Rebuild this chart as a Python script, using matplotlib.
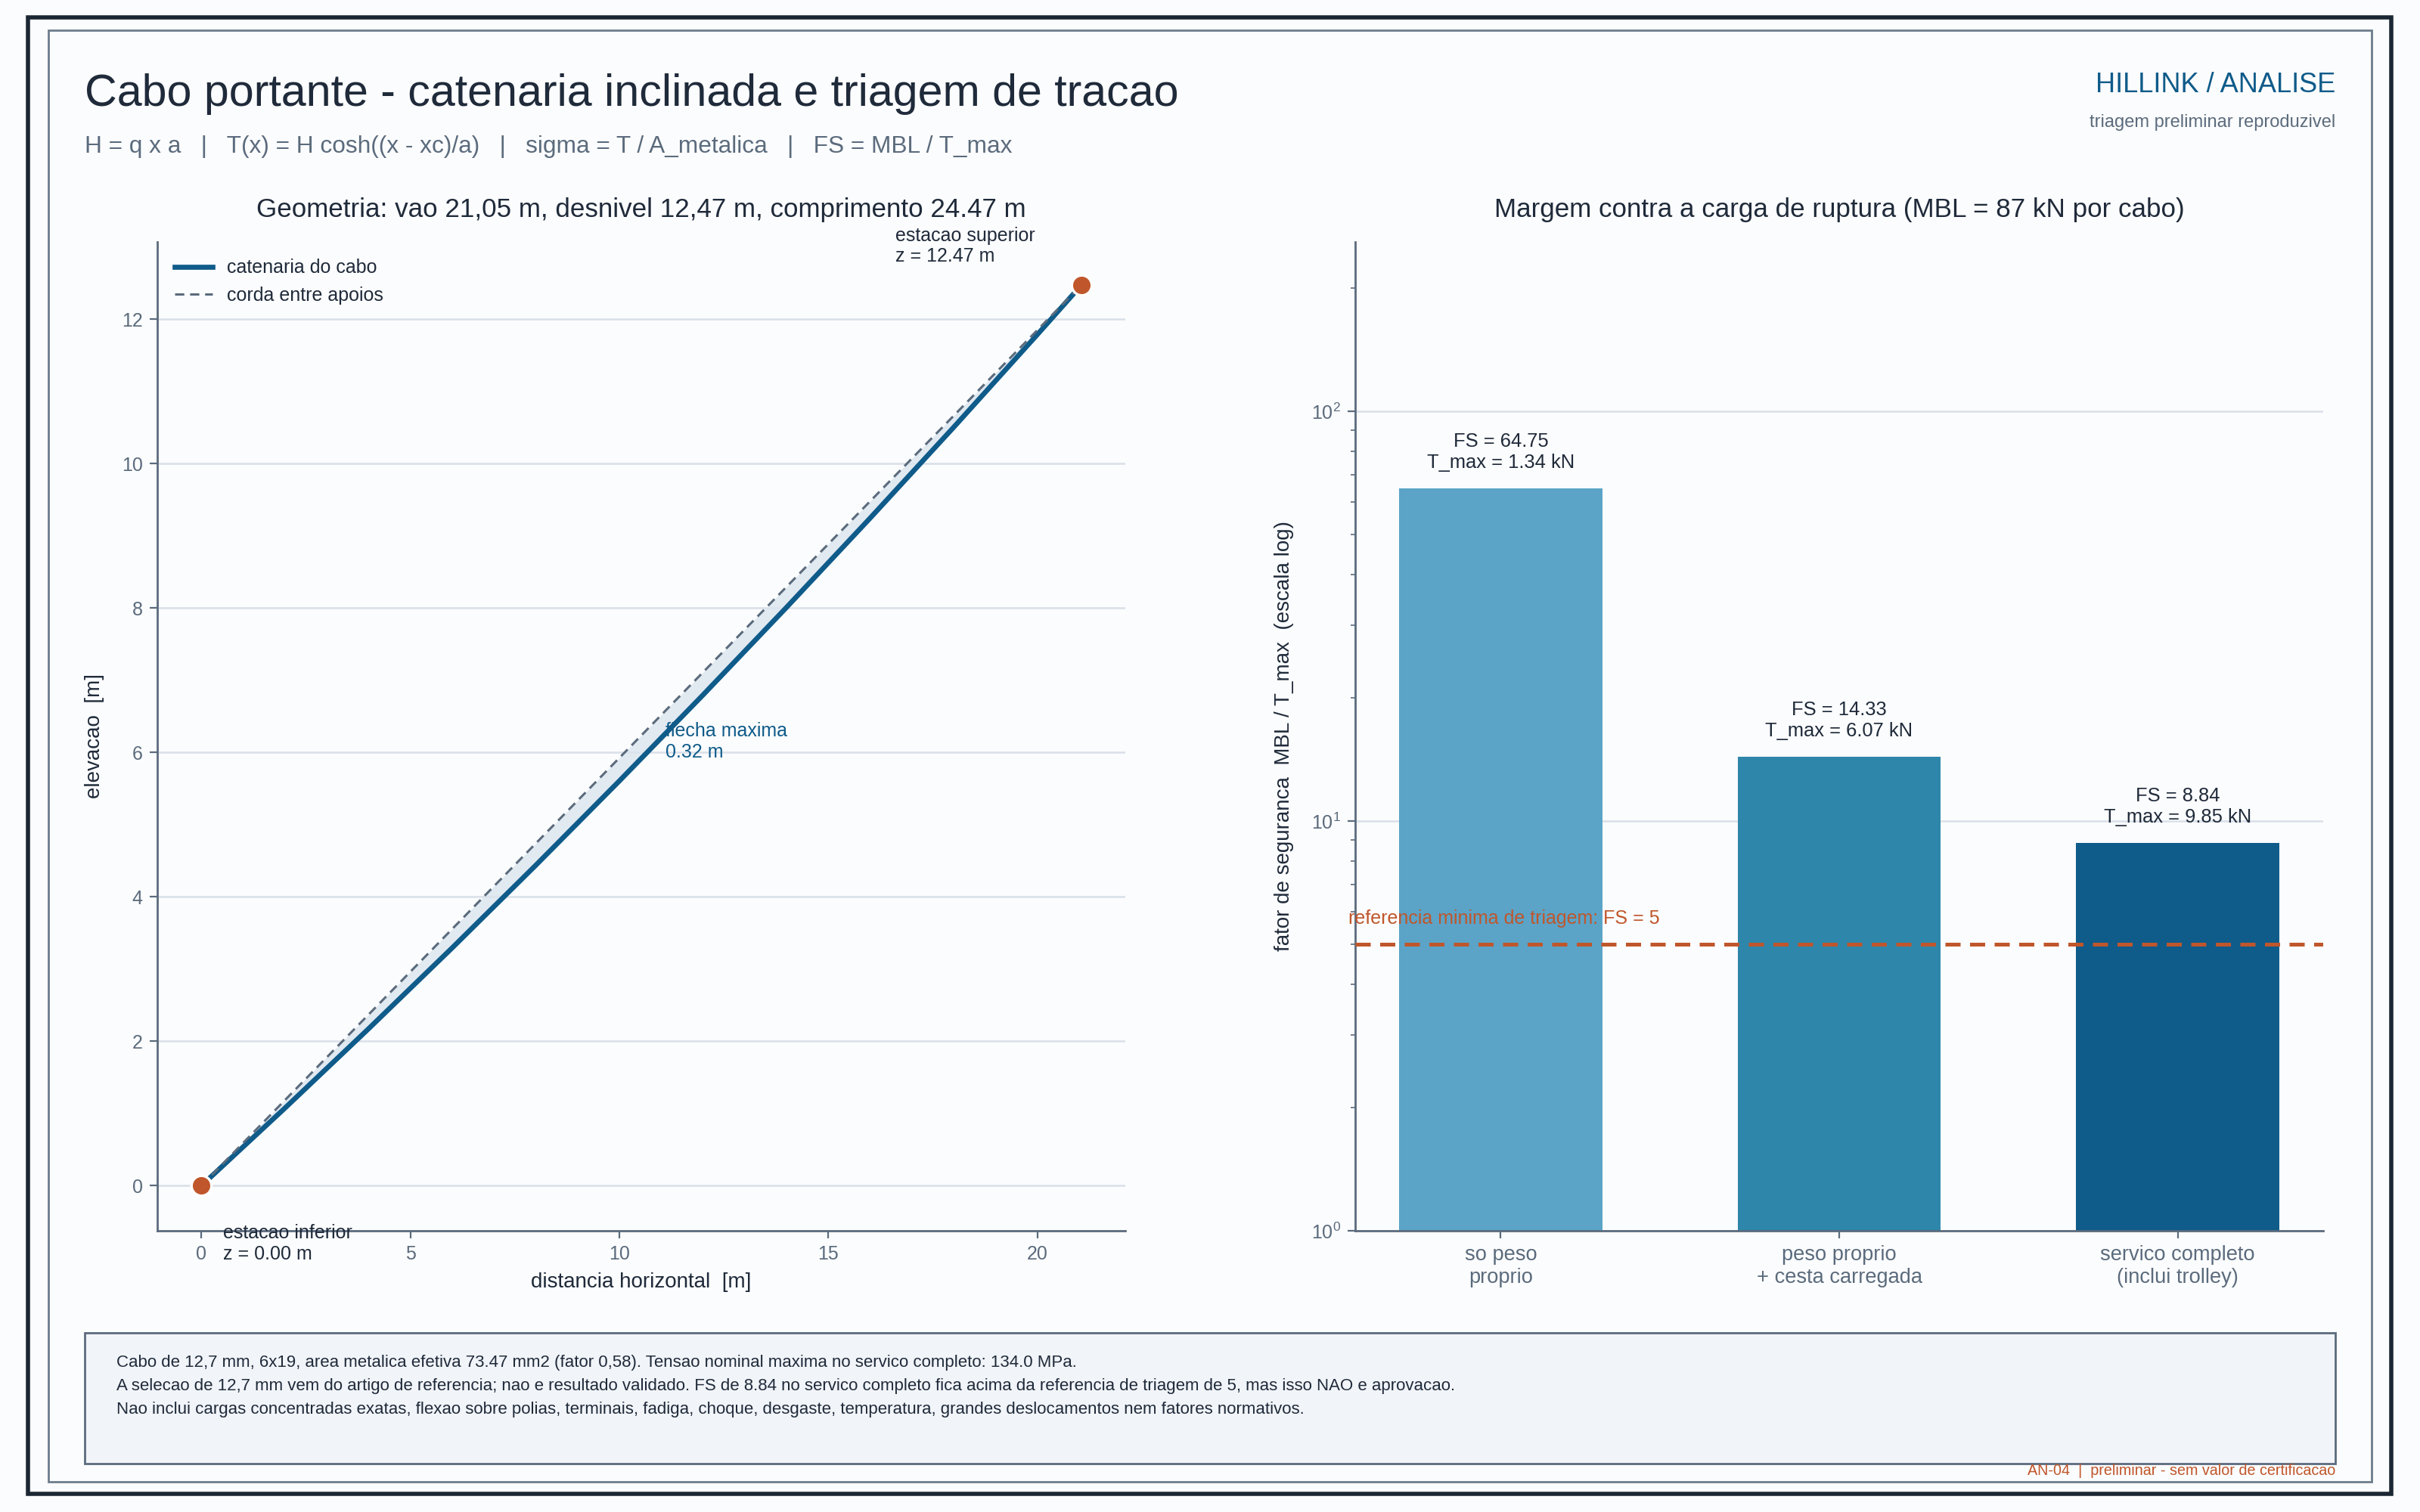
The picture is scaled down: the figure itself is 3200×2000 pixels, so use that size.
import numpy as np
import matplotlib
matplotlib.use("Agg")
import matplotlib.pyplot as plt
from matplotlib.patches import Rectangle

plt.rcParams['font.family'] = ['Liberation Sans', 'DejaVu Sans']

# --- geometria ---
vao = 21.05
desnivel = 12.47
x_cabo = [0, 2, 4, 6, 8, 10, 12, 14, 16, 18, 20, 21.05]
z_cabo = [0, 1.075, 2.173, 3.293, 4.437, 5.605, 6.795, 8.009, 9.245, 10.504, 11.787, 12.47]
x_corda = [0, 21.05]
z_corda = [0, 12.47]
flecha = 0.32

# --- fatores de seguranca ---
casos = ["so peso\nproprio", "peso proprio\n+ cesta carregada", "servico completo\n(inclui trolley)"]
fs = [64.75, 14.33, 8.84]
t_max = [1.34, 6.07, 9.85]
fs_ref = 5

DARK = "#1f2a3a"
GRAY = "#5b6b7d"
BLUE = "#0f5b8a"
ORANGE = "#c0562b"
GRID = "#d9e0e8"
BG = "#fbfcfd"

fig = plt.figure(figsize=(16, 10), dpi=200, facecolor=BG)

# molduras
fig.patches.append(Rectangle((0.0115, 0.012), 0.9765, 0.9765, transform=fig.transFigure,
                             fill=False, edgecolor="#1b2733", lw=2.0, zorder=0))
fig.patches.append(Rectangle((0.020, 0.020), 0.960, 0.960, transform=fig.transFigure,
                             fill=False, edgecolor="#6d7d8c", lw=1.0, zorder=0))

fig.text(0.035, 0.930, "Cabo portante - catenaria inclinada e triagem de tracao",
         fontsize=21.3, color=DARK, ha="left", va="baseline")
fig.text(0.035, 0.899, "H = q x a   |   T(x) = H cosh((x - xc)/a)   |   sigma = T / A_metalica   |   FS = MBL / T_max",
         fontsize=11.4, color=GRAY, ha="left", va="baseline")
fig.text(0.965, 0.939, "HILLINK / ANALISE", fontsize=13, color=BLUE, ha="right", va="baseline")
fig.text(0.965, 0.916, "triagem preliminar reproduzivel", fontsize=8.5, color=GRAY, ha="right", va="baseline")


def estilo(ax):
    ax.set_facecolor(BG)
    for s in ["top", "right"]:
        ax.spines[s].set_visible(False)
    for s in ["left", "bottom"]:
        ax.spines[s].set_color(GRAY)
        ax.spines[s].set_linewidth(1.0)
    ax.tick_params(colors=GRAY, labelsize=9, which="both")
    ax.grid(axis="y", color=GRID, lw=0.9)
    ax.set_axisbelow(True)


# --- painel esquerdo ---
ax1 = fig.add_axes([0.065, 0.186, 0.400, 0.654])
estilo(ax1)
ax1.fill_between(x_cabo, z_cabo, np.interp(x_cabo, x_corda, z_corda), color="#dbe5ee", alpha=0.8, lw=0)
ax1.plot(x_cabo, z_cabo, color=BLUE, lw=2.4, label="catenaria do cabo", zorder=3)
ax1.plot(x_corda, z_corda, color=GRAY, lw=1.1, ls=(0, (4, 2.5)), label="corda entre apoios", zorder=3)
ax1.plot(x_corda, z_corda, "o", color=ORANGE, ms=9.5, mec="white", mew=1.2, zorder=4, clip_on=False)
ax1.set_xlim(-0.05 * vao, 1.05 * vao)
ax1.set_ylim(-0.05 * desnivel, 1.048 * desnivel)
ax1.set_xticks([0, 5, 10, 15, 20])
ax1.set_yticks([0, 2, 4, 6, 8, 10, 12])
ax1.set_xlabel("distancia horizontal  [m]", fontsize=10, color=DARK, labelpad=4)
ax1.set_ylabel("elevacao  [m]", fontsize=10, color=DARK, labelpad=8)
ax1.set_title("Geometria: vao 21,05 m, desnivel 12,47 m, comprimento 24.47 m",
              fontsize=12.6, color=DARK, pad=12)
leg = ax1.legend(loc="upper left", frameon=False, fontsize=9, handlelength=2.0,
                 borderaxespad=0.5, labelspacing=0.5)
for t in leg.get_texts():
    t.set_color(DARK)
ax1.text(11.1, 6.15, f"flecha maxima\n{flecha:.2f} m", fontsize=9, color=BLUE,
         ha="left", va="center", zorder=5)
ax1.text(16.6, 12.74, "estacao superior\nz = 12.47 m", fontsize=9, color=DARK,
         ha="left", va="bottom", clip_on=False)
ax1.text(0.52, -0.53, "estacao inferior\nz = 0.00 m", fontsize=9, color=DARK,
         ha="left", va="top", clip_on=False)

# --- painel direito ---
ax2 = fig.add_axes([0.560, 0.186, 0.400, 0.654])
estilo(ax2)
cores = ["#5ba4c7", "#2e86aa", "#0f5b8a"]
pos = np.arange(len(casos))
ax2.bar(pos, fs, width=0.6, color=cores, zorder=2)
ax2.set_yscale("log")
ax2.set_ylim(1, max(fs) * 4)
ax2.grid(axis="y", which="minor", visible=False)
ax2.set_xticks(pos)
ax2.set_xticklabels(casos, fontsize=9.8, color=GRAY)
for p, f, t in zip(pos, fs, t_max):
    ax2.text(p, f * 1.1, f"FS = {f:.2f}\nT_max = {t:.2f} kN", ha="center", va="bottom",
             fontsize=9.2, color=DARK, multialignment="center")
ax2.axhline(fs_ref, color=ORANGE, lw=1.8, ls=(0, (4, 2.5)), zorder=3)
ax2.text(-0.45, fs_ref * 1.1, f"referencia minima de triagem: FS = {fs_ref}", color=ORANGE,
         fontsize=9, ha="left", va="bottom")
ax2.set_ylabel("fator de seguranca  MBL / T_max  (escala log)", fontsize=10, color=DARK, labelpad=8)
ax2.set_title("Margem contra a carga de ruptura (MBL = 87 kN por cabo)", fontsize=12.6, color=DARK, pad=12)

# --- nota de rodape ---
fig.patches.append(Rectangle((0.035, 0.032), 0.930, 0.0865, transform=fig.transFigure,
                             facecolor="#f1f4f8", edgecolor=GRAY, lw=1.0, zorder=0))
notas = [
    "Cabo de 12,7 mm, 6x19, area metalica efetiva 73.47 mm2 (fator 0,58). Tensao nominal maxima no servico completo: 134.0 MPa.",
    "A selecao de 12,7 mm vem do artigo de referencia; nao e resultado validado. FS de 8.84 no servico completo fica acima da referencia de triagem de 5, mas isso NAO e aprovacao.",
    "Nao inclui cargas concentradas exatas, flexao sobre polias, terminais, fadiga, choque, desgaste, temperatura, grandes deslocamentos nem fatores normativos.",
]
for i, n in enumerate(notas):
    fig.text(0.048, 0.096 - i * 0.0155, n, fontsize=8.0, color=DARK, ha="left", va="baseline")
fig.text(0.965, 0.0245, "AN-04  |  preliminar - sem valor de certificacao", fontsize=7.1,
         color=ORANGE, ha="right", va="baseline")

fig.savefig("out.png", dpi=200, facecolor=BG)
